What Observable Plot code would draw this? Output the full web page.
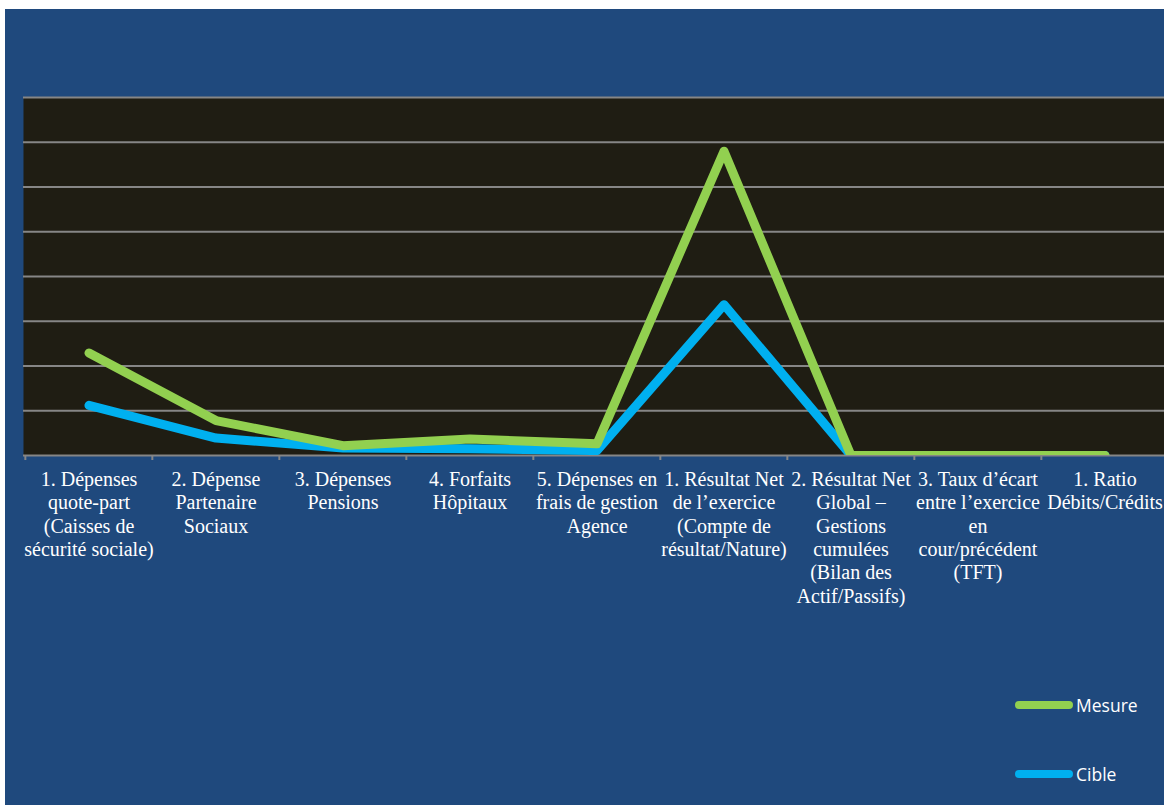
<!DOCTYPE html>
<html lang="fr">
<head>
<meta charset="utf-8">
<script src="https://cdn.jsdelivr.net/npm/d3@7"></script>
<script src="https://cdn.jsdelivr.net/npm/@observablehq/plot@0.6"></script>
<style>
  html, body { margin: 0; padding: 0; background: #ffffff; width: 1164px; height: 805px; overflow: hidden; }
  #panel { position: absolute; left: 5px; top: 9px; width: 1159px; height: 796px; background: #1f497d; overflow: hidden; }
  #chart svg { display: block; background: transparent; overflow: visible; }
  .key { position: absolute; left: 1010px; display: flex; align-items: center; font-family: "Open Sans", sans-serif; font-size: 17.5px; color: #ffffff; }
  .key .swatch { width: 58px; height: 8px; border-radius: 4px; margin-right: 3px; }
</style>
</head>
<body>
<div id="panel">
  <div id="chart"></div>
  <div class="key" style="top:684px"><span class="swatch" style="background:#92d050"></span><span>Mesure</span></div>
  <div class="key" style="top:753px"><span class="swatch" style="background:#00b0f0"></span><span>Cible</span></div>
</div>
<script>
// Indicator categories, in display order
const categories = [
  "1. Dépenses quote-part (Caisses de sécurité sociale)",
  "2. Dépense Partenaire Sociaux",
  "3. Dépenses Pensions",
  "4. Forfaits Hôpitaux",
  "5. Dépenses en frais de gestion Agence",
  "1. Résultat Net de l’exercice (Compte de résultat/Nature)",
  "2. Résultat Net Global – Gestions cumulées (Bilan des Actif/Passifs)",
  "3. Taux d’écart entre l’exercice en cour/précédent (TFT)",
  "1. Ratio Débits/Crédits"
];

// Tick labels, wrapped onto several lines
const tickLabels = [
  "1. Dépenses\nquote-part\n(Caisses de\nsécurité sociale)",
  "2. Dépense\nPartenaire\nSociaux",
  "3. Dépenses\nPensions",
  "4. Forfaits\nHôpitaux",
  "5. Dépenses en\nfrais de gestion\nAgence",
  "1. Résultat Net\nde l’exercice\n(Compte de\nrésultat/Nature)",
  "2. Résultat Net\nGlobal –\nGestions\ncumulées\n(Bilan des\nActif/Passifs)",
  "3. Taux d’écart\nentre l’exercice\nen\ncour/précédent\n(TFT)",
  "1. Ratio\nDébits/Crédits"
];

// Series values
const mesure = [2.29, 0.78, 0.22, 0.37, 0.26, 6.8, 0, 0, 0];
const cible  = [1.12, 0.39, 0.17, 0.15, 0.11, 3.37, 0, 0, 0];

// Value axis gridline positions
const yTicks = [0, 1, 2, 3, 4, 5, 6, 7, 8];

const rows = [
  ...categories.map((c, i) => ({serie: "Cible", cat: c, value: cible[i]})),
  ...categories.map((c, i) => ({serie: "Mesure", cat: c, value: mesure[i]}))
];

const width = 1159, marginLeft = 18, marginRight = -5;
const band = (width - marginLeft - marginRight) / categories.length;
const labelOf = new Map(categories.map((c, i) => [c, tickLabels[i]]));
const serif = "'Liberation Serif', 'Times New Roman', serif";

const plot = Plot.plot({
  width,
  height: 620,
  marginTop: 88,
  marginBottom: 174,
  marginLeft,
  marginRight,
  style: {fontFamily: serif, background: "transparent", overflow: "visible"},
  x: {type: "band", domain: categories, padding: 0, axis: null},
  y: {domain: [0, 8], axis: null},
  marks: [
    Plot.frame({fill: "#1f1d13", stroke: null}),
    Plot.gridY({ticks: yTicks, stroke: "#868686", strokeOpacity: 1, strokeWidth: 2}),
    // tick marks on the category boundaries
    Plot.axisX({tickSize: 5, tickFormat: () => "", label: null, dx: -band / 2, stroke: "#868686", strokeWidth: 2}),
    // category labels
    Plot.axisX({
      tickSize: 0,
      tickPadding: 14,
      tickFormat: d => labelOf.get(d),
      label: null,
      fontFamily: serif,
      fontSize: 20,
      lineHeight: 1.165,
      fill: "#ffffff",
      textAnchor: "middle"
    }),
    Plot.line(rows.filter(d => d.serie === "Cible"), {
      x: "cat", y: "value", stroke: "#00b0f0", strokeWidth: 9,
      strokeLinecap: "round", strokeLinejoin: "round", clip: "frame"
    }),
    Plot.line(rows.filter(d => d.serie === "Mesure"), {
      x: "cat", y: "value", stroke: "#92d050", strokeWidth: 9,
      strokeLinecap: "round", strokeLinejoin: "round", clip: "frame"
    })
  ]
});

document.getElementById("chart").appendChild(plot);
</script>
</body>
</html>
